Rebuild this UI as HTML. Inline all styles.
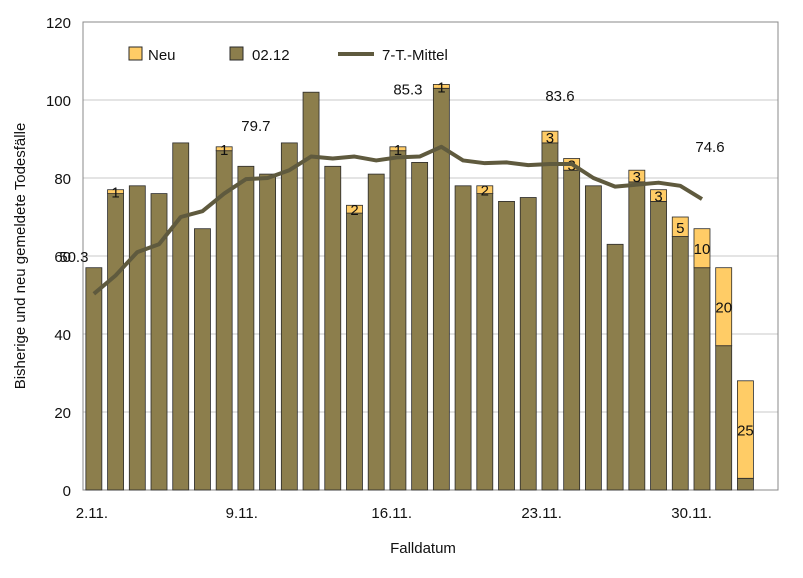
<!DOCTYPE html>
<html><head><meta charset="utf-8"><style>
body{margin:0;background:#fff;font-family:"Liberation Sans",sans-serif}
svg text{font-family:"Liberation Sans",sans-serif;fill:#111}
</style></head><body>
<svg id="c" width="803" height="573"></svg>
<script>
const categories=["2.11.","3.11.","4.11.","5.11.","6.11.","7.11.","8.11.","9.11.","10.11.","11.11.","12.11.","13.11.","14.11.","15.11.","16.11.","17.11.","18.11.","19.11.","20.11.","21.11.","22.11.","23.11.","24.11.","25.11.","26.11.","27.11.","28.11.","29.11.","30.11.","1.12.","2.12."];
const oldValues=[57,76,78,76,89,67,87,83,81,89,102,83,71,81,87,84,103,78,76,74,75,89,82,78,63,79,74,65,57,37,3];
const newValues=[0,1,0,0,0,0,1,0,0,0,0,0,2,0,1,0,1,0,2,0,0,3,3,0,0,3,3,5,10,20,25];
const avgValues=[50.3,55,61,63,70,71.5,76,79.7,80,82,85.5,85,85.5,84.5,85.3,85.5,88,84.5,83.8,84,83.3,83.6,83.6,80,77.8,78.3,78.8,78,74.6];
const avgLabelIdx=[0,7,14,21,28];
const yTicks=[0,20,40,60,80,100,120];
const xTickIdx=[0,7,14,21,28];

const NS="http://www.w3.org/2000/svg",svg=document.getElementById('c');
const L=83,R=778,T=22,B=490,nCat=32,cw=(R-L)/nCat;
const y=v=>B-(v/120)*(B-T), xc=i=>L+cw*(i+0.5);
function mk(t,a,txt){const e=document.createElementNS(NS,t);for(const k in a)e.setAttribute(k,a[k]);if(txt!=null)e.textContent=txt;svg.appendChild(e);return e;}
yTicks.forEach(v=>{
 const g=mk('line',{x1:L,x2:R,y1:y(v),y2:y(v),stroke:'#c8c8c8','stroke-width':1});
 
 
 const t=mk('text',{x:L-12,y:y(v)+6,'text-anchor':'end','font-size':15},v);
 
 
});
const fr=mk('rect',{x:L,y:T,width:R-L,height:B-T,fill:'none',stroke:'#888'});


const bw=16;
categories.forEach((c,i)=>{
 const o=mk('rect',{x:xc(i)-bw/2,y:y(oldValues[i]),width:bw,height:B-y(oldValues[i]),fill:'#8c7e4c',stroke:'#2a2a2a','stroke-width':0.8});
 
 
 if(newValues[i]>0){
  const tot=oldValues[i]+newValues[i];
  const n=mk('rect',{x:xc(i)-bw/2,y:y(tot),width:bw,height:y(oldValues[i])-y(tot),fill:'#ffcc66',stroke:'#2a2a2a','stroke-width':0.8});
  
  
  const lt=mk('text',{x:xc(i),y:(y(tot)+y(oldValues[i]))/2+6,'text-anchor':'middle','font-size':15},newValues[i]);
  
  
 }
});
xTickIdx.forEach(i=>{
 const t=mk('text',{x:xc(i)-2-i*0.3,y:B+28,'text-anchor':'middle','font-size':15},categories[i]);
 
 
});
const pl=mk('polyline',{points:avgValues.map((v,i)=>xc(i)+','+y(v)).join(' '),fill:'none',stroke:'#5f5a3e','stroke-width':4,'stroke-linejoin':'round'});


const labDx=[-20,10,10,10,8], labDy=[-32,-48,-63,-63,-47];
avgLabelIdx.forEach((i,k)=>{
 const t=mk('text',{x:xc(i)+labDx[k],y:y(avgValues[i])+labDy[k],'text-anchor':'middle','font-size':15},avgValues[i].toFixed(1));
 
 
});
const lg=mk('rect',{x:118,y:42,width:360,height:26,fill:'#fff'});


let e=mk('rect',{x:129,y:47,width:13,height:13,fill:'#ffcc66',stroke:'#2a2a2a'});

e=mk('text',{x:148,y:60,'font-size':15},'Neu');

e=mk('rect',{x:230,y:47,width:13,height:13,fill:'#8c7e4c',stroke:'#2a2a2a'});

e=mk('text',{x:252,y:60,'font-size':15},'02.12');

e=mk('line',{x1:338,x2:374,y1:54,y2:54,stroke:'#5f5a3e','stroke-width':4});

e=mk('text',{x:382,y:60,'font-size':15},'7-T.-Mittel');

e=mk('text',{x:423,y:553,'text-anchor':'middle','font-size':15},'Falldatum');

e=mk('text',{x:0,y:0,'text-anchor':'middle','font-size':15,transform:'translate(25,256) rotate(-90)'},'Bisherige und neu gemeldete Todesfälle');

</script>
</body></html>
